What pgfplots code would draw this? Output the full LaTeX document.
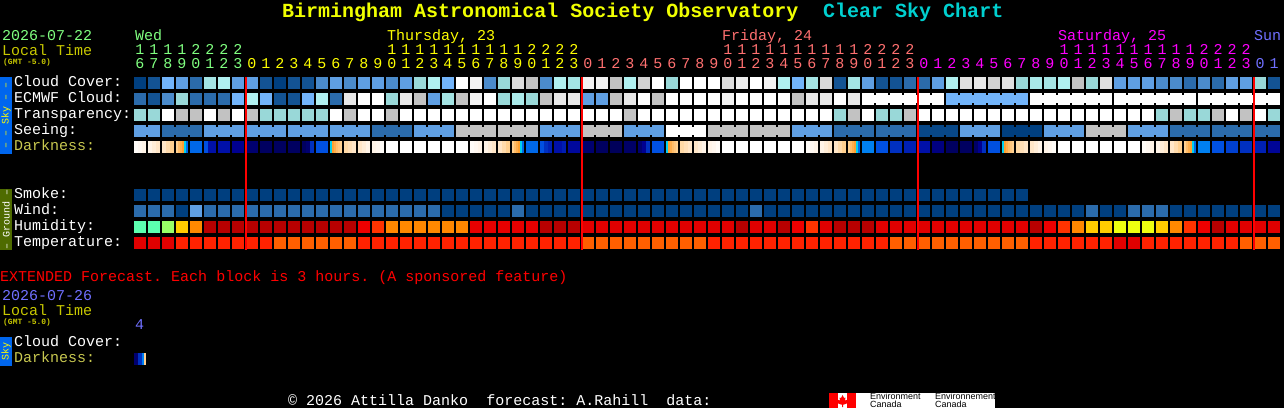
\documentclass[border=0pt]{standalone}
\usepackage{fontspec}
\setmainfont{Liberation Mono}
\newfontfamily\logofont{Liberation Sans}
\usepackage{pgfplots}
\usepackage{pgfplotstable}
\pgfplotsset{compat=1.18}

\definecolor{wedc}{HTML}{80FF80}
\definecolor{thuc}{HTML}{FFFF00}
\definecolor{fric}{HTML}{FF7070}
\definecolor{satc}{HTML}{FF00FF}
\definecolor{sunc}{HTML}{7070FF}
\definecolor{localc}{HTML}{C8C800}
\definecolor{darkc}{HTML}{C8C850}
\definecolor{titlec}{HTML}{F0FF00}
\definecolor{chartc}{HTML}{00D0D0}
\definecolor{skybar}{HTML}{0066EE}
\definecolor{groundbar}{HTML}{4E6B00}
\definecolor{extc}{HTML}{FF0000}
\definecolor{flagc}{HTML}{FF0000}

% one block, one gap filler, one 2px stripe
\pgfdeclareplotmark{blk}{\pgfpathrectangle{\pgfpoint{-6bp}{-6bp}}{\pgfpoint{12bp}{12bp}}\pgfusepathqfill}
\pgfdeclareplotmark{blk4}{\pgfpathrectangle{\pgfpoint{-2bp}{-6bp}}{\pgfpoint{4bp}{12bp}}\pgfusepathqfill}
\pgfdeclareplotmark{stripe}{\pgfpathrectangle{\pgfpoint{-1bp}{-6bp}}{\pgfpoint{2bp}{12bp}}\pgfusepathqfill}
\pgfdeclareplotmark{conn}{\pgfpathrectangle{\pgfpoint{-1bp}{-4bp}}{\pgfpoint{2bp}{8bp}}\pgfusepathqfill}

% meta range is axis wide (0..12), so every colormap has 13 entries
\pgfplotsset{
  colormap={sky}{HTML=(003F7F) HTML=(135393) HTML=(2B6BAB) HTML=(4B8BCB) HTML=(5F9FE3)
    HTML=(72B4FA) HTML=(99D8D8) HTML=(B0F0F0) HTML=(C2C2C2) HTML=(E8E8E8) HTML=(FFFFFF)
    HTML=(FFFFFF) HTML=(FFFFFF)},
  colormap={dark}{HTML=(FFFFFF) HTML=(FFF4E8) HTML=(FFE6C8) HTML=(FFD090) HTML=(FFA030) HTML=(00D0F0)
    HTML=(0080F0) HTML=(0050E0) HTML=(0030C0) HTML=(0010A8) HTML=(000090) HTML=(000070) HTML=(000050)},
  colormap={humid}{HTML=(B80000) HTML=(E00000) HTML=(EE0000) HTML=(FF3300) HTML=(FF8800)
    HTML=(FFCC00) HTML=(EEFF10) HTML=(99FF66) HTML=(5CFFB0)
    HTML=(5CFFB0) HTML=(5CFFB0) HTML=(5CFFB0) HTML=(5CFFB0)},
  colormap={temp}{HTML=(E00000) HTML=(FF2200) HTML=(FF5F00)
    HTML=(FF5F00) HTML=(FF5F00) HTML=(FF5F00) HTML=(FF5F00) HTML=(FF5F00) HTML=(FF5F00)
    HTML=(FF5F00) HTML=(FF5F00) HTML=(FF5F00) HTML=(FF5F00)},
  cell/.style={only marks,scatter,point meta=explicit},
  skyrow/.style={cell,mark=blk,colormap name=sky},
  connrow/.style={cell,mark=conn,colormap name=sky},
  darkrow/.style={cell,mark=blk4,colormap name=dark},
  stripes/.style={cell,mark=stripe,colormap name=dark},
  humidrow/.style={cell,mark=blk,colormap name=humid},
  temprow/.style={cell,mark=blk,colormap name=temp},
  pixelaxis/.style={
    at={(0,0)},anchor=south west,
    scale only axis,width=1284bp,height=408bp,
    xmin=0,xmax=1284,ymin=0,ymax=408,y dir=reverse,
    ticks=none,axis line style={draw=none},
    clip=false,point meta min=0,point meta max=12,
  },
}

% 82 hourly columns; smoke = -1 where there is no forecast
\pgfplotstableread{
col cloud ecmwf transp see da db dc smoke wind humid temp
0 0 2 6 4 .3 .6 1 0 2 8 0
1 1 1 6 4 1 1.5 2 0 2 8 0
2 5 3 10 2 2 2.5 3 0 2 7 0
3 4 6 8 2 3 4 6.5 0 0 5 1
4 2 2 8 2 6.5 6.5 6.5 0 4 4 1
5 6.5 2 10 4 7 9 9 0 2 0 1
6 7 2 8 4 9 9 9 0 2 0 1
7 4 5 10 4 10 10 10 0 2 0 1
8 4 7 8 4 11 11 11 0 2 0 1
9 1 5 6 4 11.5 11.5 11.5 0 2 0 1
10 0 1 6 4 11.5 11.5 11.5 0 2 0 2
11 1 1 6 4 11.5 11.5 11.5 0 2 0 2
12 1 5 6 4 11.5 11 8 0 2 0 2
13 3 7 6 4 7 7 7 0 2 0 2
14 4 2 10 4 5 3.7 3 0 2 0 2
15 3 9 8 4 2.6 2.3 2 0 2 0 2
16 4 10 10 4 2 1.5 1 0 2 2 1
17 4 10 10 2 1 .7 .3 0 2 3 1
18 3 6 8 2 0 0 0 0 2 4 1
19 4 9 10 2 0 0 0 0 2 4 1
20 6 8 10 4 0 0 0 0 2 4 1
21 7 4 10 4 0 0 0 0 2 4 1
22 5 6.5 10 4 0 0 0 0 0 4 1
23 10 8 10 8 0 0 0 0 0 4 1
24 9.5 9.5 10 8 .3 .6 1 0 0 1.5 1
25 3 10 10 8 1 1.5 2 0 0 1.5 1
26 6 6 10 8 2 2.5 3 0 0 1.5 1
27 8.7 6.8 10 8 3 4 6.5 0 2 1.5 1
28 8 6 10 8 6.5 6.5 6.5 0 0 1.5 1
29 3 8 10 4 7 8 8.5 0 0 0 1
30 7 9 10 4 9 9 8.6 0 0 0 1
31 6.5 9 10 4 9.5 9.5 9.5 0 0 0 1
32 9.5 4 10 8 11 11 11 0 0 1 2
33 9.5 4 10 8 11.5 11.5 11.5 0 0 1 2
34 8 8 10 8 11.7 11.7 11.7 0 0 1 2
35 7 9 8 4 11.3 11.3 11.3 0 0 1 2
36 8.4 10 10 4 11 10 8 0 0 1 2
37 10 8 10 4 7 7 7 0 0 1 2
38 6 10 10 10 5 3.7 3 0 0 1 2
39 10 10 10 10 2.6 2.3 2 0 0 1 2
40 10 10 10 10 2 1.5 1 0 0 1 2
41 10 10 10 8 1 .7 .3 0 0 1 1
42 8.7 9.5 10 8 0 0 0 0 0 1 1
43 9.2 10 10 8 0 0 0 0 0 0 1
44 10 10 10 8 0 0 0 0 2 1 1
45 9.5 10 10 8 0 0 0 0 0 1 1
46 7 10 10 8 0 0 0 0 0 0 1
47 5 8 10 4 0 0 0 0 0 2 1
48 6.5 9 10 4 .3 .6 1 0 0 3 1
49 8.6 9 10 4 1 1.5 2 0 0 1 1
50 1 10 6 2 2 2.5 3 0 0 0 1
51 6.5 9 8 2 3 4 6.5 0 0 0 1
52 4 10 10 2 6 6 6 0 0 0 1
53 1 10 6 2 7 7 7 0 0 1 1
54 1 10 6 2 8 8 8 0 0 1 2
55 2 10 8 2 8.5 8.5 8.5 0 0 1 2
56 2 10 10 .4 9 9 9 0 0 1 2
57 4 10 10 .4 10.5 10.5 10.5 0 0 1 2
58 7 5 10 .4 11.5 11.5 11.5 0 0 1 2
59 8.8 5 10 4 11.5 11.5 11.5 0 0 1 2
60 9 5 10 4 11.3 10 8 0 0 1 2
61 8.4 5 10 4 7 7 7 0 0 1 2
62 8.8 5 10 0 5 3.7 3 0 0 1 2
63 6 5 10 0 2.6 2.3 2 0 0 1 2
64 6.7 10 10 0 2 1.5 1 -1 0 0 1
65 6.5 10 10 4 1 .7 .3 -1 0 2 1
66 7 10 10 4 0 0 0 -1 0 3 1
67 8 10 10 4 0 0 0 -1 0 4 1
68 6 10 10 8 0 0 0 -1 2 5 1
69 8.8 10 10 8 0 0 0 -1 0 5 1
70 4 10 10 8 0 0 0 -1 0 6 0
71 4 10 10 4 0 0 0 -1 2 6 0
72 4 10 10 4 .3 .6 1 -1 2 6 1
73 3 10 6 4 1 1.5 2 -1 2 5 1
74 3 10 8 2 2 2.5 3 -1 0 4 1
75 2 10 6 2 3 4 6.5 -1 0 3 1
76 3 10 6 2 6 6 6 -1 0 2 1
77 2 10 8 2 7 7 7 -1 0 0 1
78 4 10 10 2 7.5 7.5 7.5 -1 0 1 1
79 4 10 8 2 8 8 8 -1 0 1 2
80 6 10 10 2 8.5 8.5 8.5 -1 0 1 2
81 1 10 6 2 9.7 9.7 9.7 -1 0 1 2
}\chartdata

% twilight columns, 2px stripes: x y shade
\pgfplotstableread{
x y v
177 147 3
179 147 3.4
181 147 3.7
183 147 4
185 147 5
187 147 6.5
331 147 5
333 147 4
335 147 3.7
337 147 3.4
339 147 3.2
341 147 3
513 147 3
515 147 3.4
517 147 3.7
519 147 4
521 147 5
523 147 6.5
667 147 5
669 147 4
671 147 3.7
673 147 3.4
675 147 3.2
677 147 3
849 147 3
851 147 3.4
853 147 3.7
855 147 4
857 147 5
859 147 6.5
1003 147 5
1005 147 4
1007 147 3.7
1009 147 3.4
1011 147 3.2
1013 147 3
1185 147 3
1187 147 3.4
1189 147 3.7
1191 147 4
1193 147 5
1195 147 6.5
135 359 11
137 359 11
139 359 8
141 359 8
143 359 6
145 359 3
}\twilight

\newcommand{\tx}{\fontsize{15.06}{16}\selectfont}

\begin{document}
\frenchspacing
\begin{tikzpicture}[lbl/.style={anchor=base west,inner sep=0pt,font=\tx}]
\useasboundingbox (0,0) rectangle (1284bp,408bp);
\begin{axis}[pixelaxis,axis background/.style={fill=black}]
% side bars
\fill[skybar] (0,77) rectangle (12,154);
\fill[groundbar] (0,189) rectangle (12,250);
\fill[skybar] (0,337) rectangle (12,366);

% sky rows
\addplot[skyrow] table[x expr=140+14*\thisrow{col},y expr=83,meta=cloud]{\chartdata};
\addplot[skyrow] table[x expr=140+14*\thisrow{col},y expr=99,meta=ecmwf]{\chartdata};
\addplot[connrow] table[x expr={(\thisrow{col}<52 || mod(\thisrow{col},6)==3) ? nan : 147+14*\thisrow{col}},y expr=99,meta=ecmwf]{\chartdata};
\addplot[skyrow] table[x expr=140+14*\thisrow{col},y expr=115,meta=transp]{\chartdata};
\addplot[skyrow] table[x expr=140+14*\thisrow{col},y expr=131,meta=see]{\chartdata};
\addplot[connrow] table[x expr={(mod(\thisrow{col},3)==1 || \thisrow{col}==81) ? nan : 147+14*\thisrow{col}},y expr=131,meta=see]{\chartdata};
\addplot[darkrow] table[x expr=136+14*\thisrow{col},y expr=147,meta=da]{\chartdata};
\addplot[darkrow] table[x expr=140+14*\thisrow{col},y expr=147,meta=db]{\chartdata};
\addplot[darkrow] table[x expr=144+14*\thisrow{col},y expr=147,meta=dc]{\chartdata};
\addplot[stripes] table[x=x,y=y,meta=v]{\twilight};

% ground rows
\addplot[skyrow] table[x expr={\thisrow{smoke}<0 ? nan : 140+14*\thisrow{col}},y expr=195,meta=smoke]{\chartdata};
\addplot[skyrow] table[x expr=140+14*\thisrow{col},y expr=211,meta=wind]{\chartdata};
\addplot[humidrow] table[x expr=140+14*\thisrow{col},y expr=227,meta=humid]{\chartdata};
\addplot[temprow] table[x expr=140+14*\thisrow{col},y expr=243,meta=temp]{\chartdata};

% title
\node[lbl,font=\fontsize{20.08}{22}\selectfont\bfseries,text=titlec] at (282,18) {Birmingham Astronomical Society Observatory};
\node[lbl,font=\fontsize{20.08}{22}\selectfont\bfseries,text=chartc] at (823,18) {Clear Sky Chart};

% header
\node[lbl,text=wedc] at (2,40) {2026-07-22};
\node[lbl,text=localc] at (2,55) {Local Time};
\node[lbl,font=\fontsize{8}{8}\selectfont\bfseries,text=localc] at (3,64) {(GMT -5.0)};
\node[lbl,text=wedc] at (135,40) {Wed};
\node[lbl,text=thuc] at (387,40) {Thursday, 23};
\node[lbl,text=fric] at (722,40) {Friday, 24};
\node[lbl,text=satc] at (1058,40) {Saturday, 25};
\node[lbl,text=sunc] at (1254,40) {Sun};

% row labels
\node[lbl,text=white] at (14,86) {Cloud Cover:};
\node[lbl,text=white] at (14,102) {ECMWF Cloud:};
\node[lbl,text=white] at (14,118) {Transparency:};
\node[lbl,text=white] at (14,134) {Seeing:};
\node[lbl,text=darkc] at (14,150) {Darkness:};
\node[lbl,text=white] at (14,198) {Smoke:};
\node[lbl,text=white] at (14,214) {Wind:};
\node[lbl,text=white] at (14,230) {Humidity:};
\node[lbl,text=white] at (14,246) {Temperature:};

% side bar text
\node[rotate=90,inner sep=0pt,font=\fontsize{10.04}{10}\selectfont,text=thuc] at (6,115.5) {\char"2013{} \char"2013{} Sky \char"2013{} \char"2013};
\node[rotate=90,inner sep=0pt,font=\fontsize{10.04}{10}\selectfont,text=white] at (6,219.5) {\char"2013{} Ground \char"2013};
\node[rotate=90,inner sep=0pt,font=\fontsize{10.04}{10}\selectfont,text=thuc] at (6,351.5) {Sky};

% extended forecast
\node[lbl,text=extc] at (0,281) {EXTENDED Forecast. Each block is 3 hours. (A sponsored feature)};
\node[lbl,text=sunc] at (2,300) {2026-07-26};
\node[lbl,text=localc] at (2,315) {Local Time};
\node[lbl,font=\fontsize{8}{8}\selectfont\bfseries,text=localc] at (3,324) {(GMT -5.0)};
\node[lbl,text=sunc] at (135,329) {4};
\node[lbl,text=white] at (14,346) {Cloud Cover:};
\node[lbl,text=darkc] at (14,362) {Darkness:};

% footer
\node[lbl,text=white] at (288,405) {\char"00A9{} 2026 Attilla Danko~~forecast: A.Rahill~~data:};
\fill[white] (829,393) rectangle (995,408);
\fill[flagc] (829,393) rectangle (838,408);
\fill[flagc] (847,393) rectangle (856,408);
\fill[flagc] (842.5,395) -- (844,398) -- (845.5,397.5) -- (845,400.5) -- (848,399.5) -- (847,402) -- (848,403) -- (844,404.5) -- (843,404.5) -- (843,407) -- (842,407) -- (842,404.5) -- (841,404.5) -- (837,403) -- (838,402) -- (837,399.5) -- (840,400.5) -- (839.5,397.5) -- (841,398) -- cycle;
\node[lbl,font=\logofont\fontsize{9}{9}\selectfont,text=black] at (870,399.5) {Environment};
\node[lbl,font=\logofont\fontsize{9}{9}\selectfont,text=black] at (870,407) {Canada};
\node[lbl,font=\logofont\fontsize{9}{9}\selectfont,text=black] at (935,399.5) {Environnement};
\node[lbl,font=\logofont\fontsize{9}{9}\selectfont,text=black] at (935,407) {Canada};
\end{axis}

% midnight lines go over the marks, so they get their own axis
\begin{axis}[pixelaxis]
\addplot[red,line width=2bp] coordinates {(246,77) (246,250)};
\addplot[red,line width=2bp] coordinates {(582,77) (582,250)};
\addplot[red,line width=2bp] coordinates {(918,77) (918,250)};
\addplot[red,line width=2bp] coordinates {(1254,77) (1254,250)};
\end{axis}

% hour digits
\begin{scope}[x=1bp,y=-1bp,yshift=408bp]
\foreach \i in {0,...,81}{
  \pgfmathtruncatemacro\h{mod(16+\i,24)}
  \pgfmathtruncatemacro\u{mod(\h,10)}
  \pgfmathtruncatemacro\t{\h/10}
  \ifnum\i<8 \def\c{wedc}\else\ifnum\i<32 \def\c{thuc}\else\ifnum\i<56 \def\c{fric}\else\ifnum\i<80 \def\c{satc}\else\def\c{sunc}\fi\fi\fi\fi
  \node[anchor=base,inner sep=0pt,font=\tx,text=\c] at ({140+14*\i},69) {\u};
  \ifnum\h>9
    \node[anchor=base,inner sep=0pt,font=\tx,text=\c] at ({140+14*\i},55) {\t};
  \fi
}
\end{scope}
\end{tikzpicture}
\end{document}
